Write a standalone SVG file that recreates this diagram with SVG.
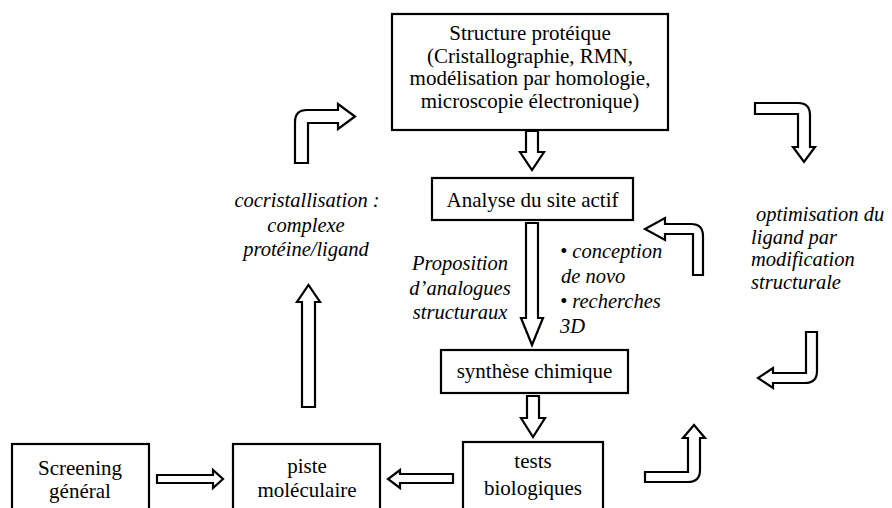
<svg xmlns="http://www.w3.org/2000/svg" width="892" height="508" viewBox="0 0 892 508">
<style>
.box{fill:#fff;stroke:#000;stroke-width:2.2}
.arr{fill:#fff;stroke:#000;stroke-width:2.2;stroke-linejoin:miter}
.t{font-family:"Liberation Serif","Times New Roman",serif;font-size:21px;fill:#000;text-anchor:middle}
.i{font-family:"Liberation Serif","Times New Roman",serif;font-size:20.5px;font-style:italic;fill:#000}
.m{text-anchor:middle}
</style>
<rect width="892" height="508" fill="#fff"/>
<g id="connectors">
<path class="arr" d="M526,131 L538,131 L538,152 L544,152 L532,170 L520,152 L526,152 Z"/>
<path class="arr" d="M526,223 L538,223 L538,318 L543,318 L532,345 L521,318 L526,318 Z"/>
<path class="arr" d="M527,396 L539,396 L539,418 L545,418 L533,437 L521,418 L527,418 Z"/>
<path class="arr" d="M302,407 L302,302 L297,302 L308.5,285 L320,302 L315,302 L315,407 Z"/>
<path class="arr" d="M157,475 L213,475 L213,470 L223,479 L213,488 L213,483 L157,483 Z"/>
<path class="arr" d="M453,474 L400,474 L400,470 L388,479 L400,488 L400,483 L453,483 Z"/>
<path class="arr" d="M295,163 L295,122 Q295,110 307,110 L338,110 L338,104 L355,116.5 L338,129 L338,123 L308,123 L308,163 Z"/>
<path class="arr" d="M693,275 L693,234 L665,234 L665,240 L645,229 L665,218 L665,224 L691,224 Q703,224 703,236 L703,275 Z"/>
<path class="arr" d="M755,103 L798,103 Q810,103 810,115 L810,147 L815,147 L804,162 L793,147 L798,147 L798,114 L755,114 Z"/>
<path class="arr" d="M806,332 L817,332 L817,371 Q817,383 805,383 L773,383 L773,388 L758,378 L773,368 L773,373 L806,373 Z"/>
<path class="arr" d="M645,472 L688,472 L688,438 L683,438 L694,425 L705,438 L700,438 L700,470 Q700,482 688,482 L645,482 Z"/>
</g>
<g id="structure">
<rect class="box" x="392" y="14" width="276" height="116"/>
<text class="t" x="530" y="40">Structure protéique</text>
<text class="t" x="530" y="62.5">(Cristallographie, RMN,</text>
<text class="t" x="530" y="85">modélisation par homologie,</text>
<text class="t" x="530" y="107.5">microscopie électronique)</text>
</g>
<g id="analyse">
<rect class="box" x="432" y="178" width="201" height="42"/>
<text class="t" x="532.5" y="207">Analyse du site actif</text>
</g>
<g id="synthese">
<rect class="box" x="441" y="350" width="187" height="43"/>
<text class="t" x="534.5" y="378">synthèse chimique</text>
</g>
<g id="tests">
<rect class="box" x="463" y="442" width="140" height="72"/>
<text class="t" x="533" y="468">tests</text>
<text class="t" x="533" y="495">biologiques</text>
</g>
<g id="screening">
<rect class="box" x="12" y="444" width="137" height="70"/>
<text class="t" x="80" y="475">Screening</text>
<text class="t" x="80" y="498">général</text>
</g>
<g id="piste">
<rect class="box" x="233" y="444" width="147" height="70"/>
<text class="t" x="307" y="473">piste</text>
<text class="t" x="307" y="497">moléculaire</text>
</g>
<g id="labels">
<text class="i m" x="307" y="207">cocristallisation :</text>
<text class="i m" x="306" y="232">complexe</text>
<text class="i m" x="306" y="256">protéine/ligand</text>
<text class="i m" x="460" y="270">Proposition</text>
<text class="i m" x="460" y="295">d’analogues</text>
<text class="i m" x="460" y="319">structuraux</text>
<text class="i" x="560" y="258">• conception</text>
<text class="i" x="561" y="283">de novo</text>
<text class="i" x="560" y="308">• recherches</text>
<text class="i" x="560" y="333">3D</text>
<text class="i" x="756" y="221">optimisation du</text>
<text class="i" x="751" y="243.5">ligand par</text>
<text class="i" x="751" y="266">modification</text>
<text class="i" x="751" y="288.5">structurale</text>
</g>
</svg>
